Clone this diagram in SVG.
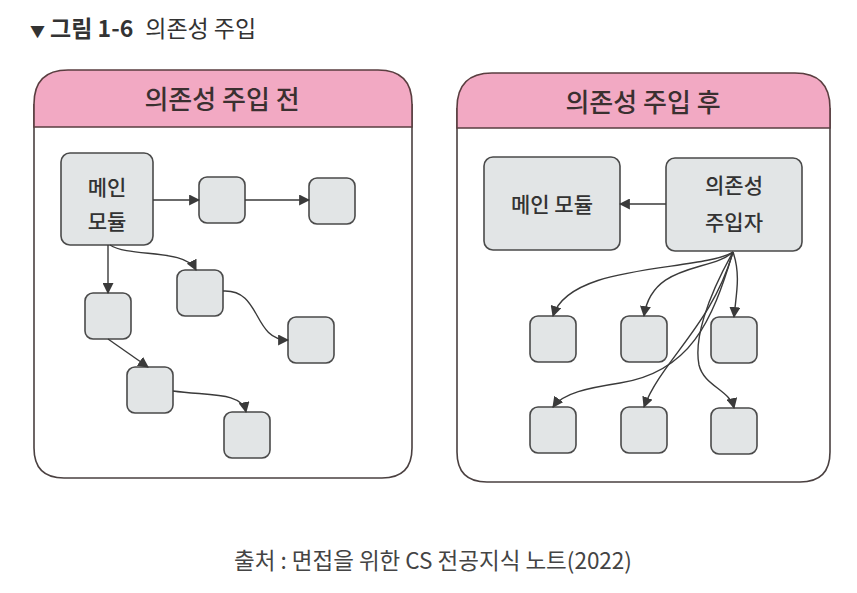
<svg xmlns="http://www.w3.org/2000/svg" width="857" height="593" viewBox="0 0 857 593">
<defs>
<marker id="ah" viewBox="0 0 10 10" refX="9" refY="5" markerWidth="11" markerHeight="11" markerUnits="userSpaceOnUse" orient="auto">
<path d="M0,0 L10,5 L0,10 Z" fill="#3a3a3a"/>
</marker>
<style>
.panel{fill:#ffffff;stroke:#4a4040;stroke-width:1.6}
.head{fill:#f2a9c3;stroke:#5a3e40;stroke-width:1.6}
.node{fill:#e2e5e6;stroke:#4a4a4a;stroke-width:1.6}
.conn{fill:none;stroke:#3a3a3a;stroke-width:1.4;marker-end:url(#ah)}
.ht{font-family:"Noto Sans CJK KR","Noto Sans",sans-serif;font-size:26px;font-weight:500;fill:#3a3030;text-anchor:middle}
.nt{font-family:"Noto Sans CJK KR","Noto Sans",sans-serif;font-size:21px;font-weight:500;fill:#333;text-anchor:middle}
</style>
</defs>
<rect width="857" height="593" fill="#ffffff"/>
<g id="title">
<text x="30" y="37" font-family="Noto Sans CJK KR, Noto Sans, sans-serif" font-size="23" fill="#333"><tspan font-size="15">▼</tspan><tspan font-weight="bold" dx="5">그림 1-6</tspan><tspan dx="12">의존성 주입</tspan></text>
</g>
<g id="panel-before">
<path class="panel" d="M34,104 L34,448 Q34,478 64,478 L382,478 Q412,478 412,448 L412,104"/>
<path class="head" d="M34,127 L34,104 Q34,70 68,70 L378,70 Q412,70 412,104 L412,127 Z"/>
<text class="ht" x="222" y="109">의존성 주입 전</text>
</g>
<g id="panel-after">
<path class="panel" d="M457,108 L457,452 Q457,482 487,482 L800,482 Q830,482 830,452 L830,108"/>
<path class="head" d="M457,128 L457,108 Q457,73 492,73 L795,73 Q830,73 830,108 L830,128 Z"/>
<text class="ht" x="643" y="112">의존성 주입 후</text>
</g>
<g id="n-main-before">
<rect class="node" x="61" y="153" width="92" height="92" rx="9"/>
<text class="nt" x="107" y="195">메인</text>
<text class="nt" x="107" y="229">모듈</text>
</g>
<g id="n-a"><rect class="node" x="199" y="177" width="46" height="46" rx="8"/></g>
<g id="n-b"><rect class="node" x="309" y="178" width="46" height="46" rx="8"/></g>
<g id="n-c"><rect class="node" x="177" y="270" width="46" height="46" rx="8"/></g>
<g id="n-d"><rect class="node" x="85" y="293" width="46" height="46" rx="8"/></g>
<g id="n-e"><rect class="node" x="288" y="317" width="46" height="46" rx="8"/></g>
<g id="n-f"><rect class="node" x="127" y="367" width="46" height="46" rx="8"/></g>
<g id="n-g"><rect class="node" x="224" y="412" width="46" height="46" rx="8"/></g>
<g id="n-main-after">
<rect class="node" x="484" y="157" width="136" height="93" rx="9"/>
<text class="nt" x="552" y="212">메인 모듈</text>
</g>
<g id="n-injector">
<rect class="node" x="666" y="158" width="136" height="93" rx="9"/>
<text class="nt" x="734" y="193">의존성</text>
<text class="nt" x="734" y="230">주입자</text>
</g>
<g id="n-r1"><rect class="node" x="530" y="316" width="46" height="46" rx="8"/></g>
<g id="n-r2"><rect class="node" x="621" y="316" width="46" height="46" rx="8"/></g>
<g id="n-r3"><rect class="node" x="711" y="317" width="46" height="46" rx="8"/></g>
<g id="n-r4"><rect class="node" x="530" y="407" width="46" height="46" rx="8"/></g>
<g id="n-r5"><rect class="node" x="621" y="407" width="46" height="46" rx="8"/></g>
<g id="n-r6"><rect class="node" x="711" y="408" width="46" height="46" rx="8"/></g>
<g id="connectors">
<path class="conn" d="M153,200 L199,200"/>
<path class="conn" d="M245,200 L309,200"/>
<path class="conn" d="M108,245 L108,293"/>
<path class="conn" d="M110,245 C130,258 185,248 196,270"/>
<path class="conn" d="M223,291 C262,289 252,340 288,340"/>
<path class="conn" d="M108,339 L148,367"/>
<path class="conn" d="M173,391 C210,396 242,392 246,412"/>
<path class="conn" d="M666,204 L620,204"/>
<path class="conn" d="M733,252 C700,272 570,262 553,316"/>
<path class="conn" d="M733,252 C712,272 652,262 644,316"/>
<path class="conn" d="M733,252 C741,275 736,295 734,317"/>
<path class="conn" d="M733,252 C712,322 690,372 620,383 C588,388 563,393 553,407"/>
<path class="conn" d="M733,252 C712,325 662,360 644,407"/>
<path class="conn" d="M733,252 C706,300 694,340 699,365 C704,386 730,390 734,408"/>
</g>
<g id="caption">
<text x="433" y="569" font-family="Noto Sans CJK KR, Noto Sans, sans-serif" font-size="22.5" fill="#444" text-anchor="middle">출처 : 면접을 위한 CS 전공지식 노트(2022)</text>
</g>
</svg>
